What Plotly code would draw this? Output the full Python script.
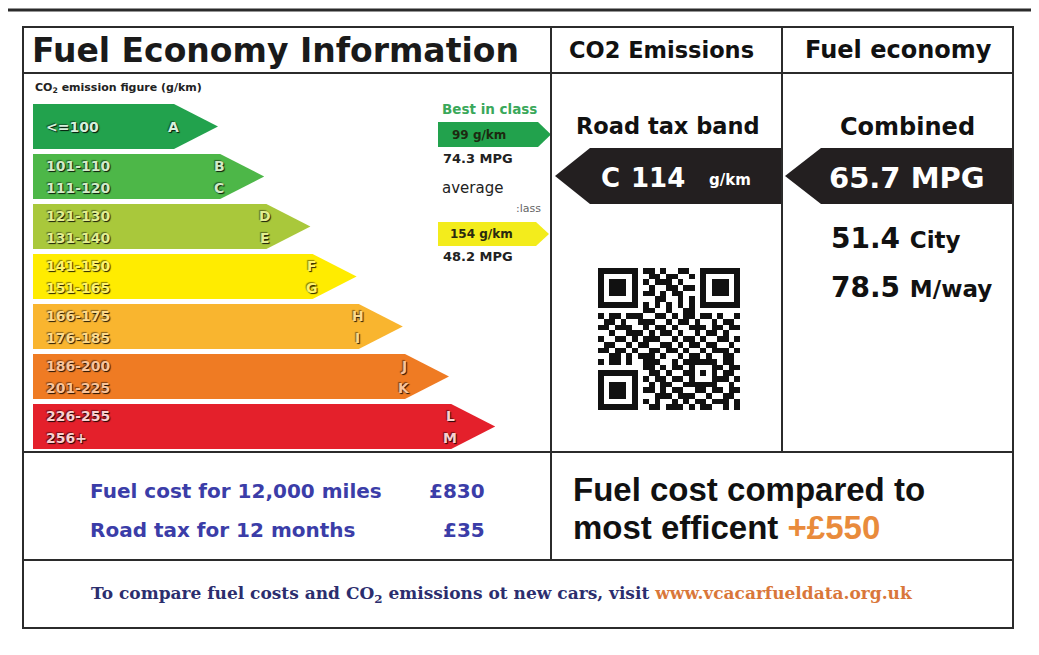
import plotly.graph_objects as go

# ---------------- data ----------------
band_rank = [1, 2, 3, 4, 5, 6, 7]
band_letters = [["A"], ["B", "C"], ["D", "E"], ["F", "G"], ["H", "I"], ["J", "K"], ["L", "M"]]
band_ranges = [["<=100"], ["101-110", "111-120"], ["121-130", "131-140"],
               ["141-150", "151-165"], ["166-175", "176-185"],
               ["186-200", "201-225"], ["226-255", "256+"]]
best_in_class_co2 = 99
best_in_class_mpg = 74.3
class_average_co2 = 154
class_average_mpg = 48.2
car_tax_band = "C"
car_co2 = 114
combined_mpg = 65.7
city_mpg = 51.4
motorway_mpg = 78.5
fuel_cost_12000 = 830
road_tax_12m = 35
extra_vs_best = 550

qr_rows = [
    "1111111" + "0" + "110100110" + "0" + "1111111",
    "1000001" + "0" + "011011001" + "0" + "1000001",
    "1011101" + "0" + "101110100" + "0" + "1011101",
    "1011101" + "0" + "010011011" + "0" + "1011101",
    "1011101" + "0" + "110101100" + "0" + "1011101",
    "1000001" + "0" + "001100101" + "0" + "1000001",
    "1111111" + "0" + "101010101" + "0" + "1111111",
    "0000000" + "0" + "110010011" + "0" + "0000000",
    "1011011100110101101101001",
    "0110100111001011010010110",
    "1101110010110100111011011",
    "0010011101011010010110100",
    "1001101011100101101001101",
    "0110010110011010110110010",
    "1101101001101101001011101",
    "0011010111010010110100110",
    "1011010011100101" + "11111" + "0110",
    "00000000" + "11010110" + "10001" + "1011",
    "1111111" + "0" + "01101001" + "10101" + "0110",
    "1000001" + "0" + "10110110" + "10001" + "1101",
    "1011101" + "0" + "01011001" + "11111" + "0010",
    "1011101" + "0" + "11010110" + "01101" + "1011",
    "1011101" + "0" + "00111011" + "10010" + "0110",
    "1000001" + "0" + "10100101" + "01101" + "1101",
    "1111111" + "0" + "01101110" + "10110" + "0101",
]

# ---------------- styles ----------------
W, H = 1039, 655
PAGE_OFF = 8  # default page margin of the browser body
band_colors = ["#22a24d", "#4db748", "#a9c83b", "#ffec00", "#f9b52f", "#ef7b23", "#e4202b"]
band_text_colors = ["#d8f0dc", "#d2ebc8", "#e2ee90", "#fff46a", "#fdd98a", "#f9c39a", "#f9d0d0"]
LINE = "#2b2b2b"
SANS = "DejaVu Sans"
ARIAL = "Liberation Sans"
SERIF = "DejaVu Serif"
BLUE = "#3b3da8"
ORANGE = "#e98b3c"

BAR_X0, TIP0, TIP_STEP, TIP_LEN = 33, 218, 46.2, 44
BAR_Y0, BAR_STEP, BAR_H = 104, 50, 45

fig = go.Figure()
ann = []


def text(x, y, s, size, color="#111", family=SANS, weight="bold", xanchor="left",
         yanchor="middle", shadow=None):
    f = dict(family=family, size=size, color=color, weight=weight)
    if shadow:
        f["shadow"] = shadow
    ann.append(dict(x=x, y=y, xref="x", yref="y", text=s, showarrow=False,
                    xanchor=xanchor, yanchor=yanchor, font=f))


def poly(xs, ys, color):
    fig.add_trace(go.Scatter(x=xs + [xs[0]], y=ys + [ys[0]], mode="lines", fill="toself",
                             fillcolor=color, line=dict(width=0, color=color),
                             hoverinfo="skip"))


def arrow_right(x0, body_end, tip, y0, y1, color):
    ym = (y0 + y1) / 2
    poly([x0, body_end, tip, body_end, x0], [y0, y0, ym, y1, y1], color)


def arrow_left(x1, body_start, tip, y0, y1, color):
    ym = (y0 + y1) / 2
    poly([x1, body_start, tip, body_start, x1], [y0, y0, ym, y1, y1], color)


# ---------------- efficiency bands ----------------
for i, r in enumerate(band_rank):
    tip = TIP0 + (r - 1) * TIP_STEP
    body_end = tip - TIP_LEN
    y0 = BAR_Y0 + (r - 1) * BAR_STEP
    y1 = y0 + BAR_H
    arrow_right(BAR_X0, body_end, tip, y0, y1, band_colors[i])
    sh = "1px 1px 1px rgba(0,0,0,0.85), -1px -1px 1px rgba(0,0,0,0.45)"
    n = len(band_ranges[i])
    offs = [0] if n == 1 else [-11, 11]
    for k in range(n):
        yc = (y0 + y1) / 2 + offs[k]
        text(BAR_X0 + 11, yc, band_ranges[i][k], 14, band_text_colors[i], shadow=sh)
        text(body_end - 1, yc, band_letters[i][k], 14, band_text_colors[i],
             xanchor="center", shadow=sh)

text(33, 88, "CO<sub>2</sub> emission figure (g/km)", 11, "#222")

# best in class / class average
text(440, 109, "Best in class", 13.5, "#3aa85a")
arrow_right(438, 538, 551, 122, 147, "#22a24d")
text(450, 135, f"{best_in_class_co2} g/km", 12, "#1c2a10")
text(441, 158, f"{best_in_class_mpg} MPG", 13, "#222")
text(440, 188, "average", 15, "#222", weight="normal")
text(543, 208, ":lass", 11, "#666", weight="normal", xanchor="right")
arrow_right(438, 536, 549, 222, 246, "#f3ec1c")
text(448, 234, f"{class_average_co2} g/km", 12, "#2a2a10")
text(441, 256, f"{class_average_mpg} MPG", 13, "#222")

# ---------------- CO2 & fuel economy columns ----------------
arrow_left(782, 590, 555, 148, 204, "#231f20")
arrow_left(1012, 821, 785, 148, 204, "#231f20")

text(661, 50, "CO2 Emissions", 22.5, "#111", xanchor="center")
text(898, 50, "Fuel economy", 24, "#111", xanchor="center")
text(668, 126, "Road tax band", 22.5, "#111", xanchor="center")
text(907, 127, "Combined", 24, "#111", xanchor="center")
text(610, 178, car_tax_band, 26, "white", xanchor="center")
text(658, 178, f"{car_co2}", 26, "white", xanchor="center")
text(730, 180, "g/km", 15, "white", xanchor="center")
text(907, 178, f"{combined_mpg} MPG", 29, "white", xanchor="center")
text(829, 238, f"{city_mpg} <span style='font-size:23px'>City</span>", 28, "#111")
text(829, 287, f"{motorway_mpg} <span style='font-size:23px'>M/way</span>", 28, "#111")

# QR code
n_q = len(qr_rows)
QX0, QY0, QS = 598, 268, 142
cell = QS / n_q
fig.add_trace(go.Heatmap(
    z=[[int(c) for c in row] for row in qr_rows],
    x=[QX0 + (j + 0.5) * cell for j in range(n_q)],
    y=[QY0 + (j + 0.5) * cell for j in range(n_q)],
    colorscale=[[0, "white"], [1, "#111"]], zmin=0, zmax=1,
    showscale=False, hoverinfo="skip"))

# ---------------- title ----------------
text(30, 50, "Fuel Economy Information", 33, "#1a1a1a")

# ---------------- costs ----------------
text(88, 491, "Fuel cost for 12,000 miles", 20, BLUE)
text(487, 491, f"£{fuel_cost_12000}", 20, BLUE, xanchor="right")
text(88, 530, "Road tax for 12 months", 20, BLUE)
text(487, 530, f"£{road_tax_12m}", 20, BLUE, xanchor="right")

text(571, 489, "Fuel cost compared to", 33, "#111", family=ARIAL)
text(571, 527, f"most efficent <span style='color:{ORANGE}'>+£{extra_vs_best}</span>", 33,
     "#111", family=ARIAL)

text(502, 594,
     "To compare fuel costs and CO<sub>2</sub> emissions ot new cars, visit "
     "<span style='color:#d9773a'>www.vcacarfueldata.org.uk</span>",
     17, "#2c2e6e", family=SERIF, xanchor="center")

# ---------------- frame lines ----------------
shapes = []


def seg(x0, y0, x1, y1, w=2):
    shapes.append(dict(type="line", xref="x", yref="y", x0=x0, y0=y0, x1=x1, y1=y1,
                       line=dict(color=LINE, width=w), layer="above"))


seg(5, 10, 1039, 10, 3)
shapes.append(dict(type="rect", xref="x", yref="y", x0=23, y0=27, x1=1013, y1=628,
                   line=dict(color=LINE, width=2), layer="above"))
seg(23, 73, 1013, 73)
seg(551, 27, 551, 560)
seg(782, 27, 782, 452)
seg(23, 452, 1013, 452)
seg(23, 560, 1013, 560)

# the page body keeps its default 8px margin: size the figure to the rest of the
# window and offset the axis ranges so coordinates map to window pixels
fig.update_layout(
    width=W - PAGE_OFF, height=H - PAGE_OFF, margin=dict(l=0, r=0, t=0, b=0),
    paper_bgcolor="white", plot_bgcolor="white", showlegend=False,
    xaxis=dict(range=[PAGE_OFF, W], visible=False, fixedrange=True),
    yaxis=dict(range=[H, PAGE_OFF], visible=False, fixedrange=True),
    annotations=ann, shapes=shapes,
)
fig.write_html("out.html")
